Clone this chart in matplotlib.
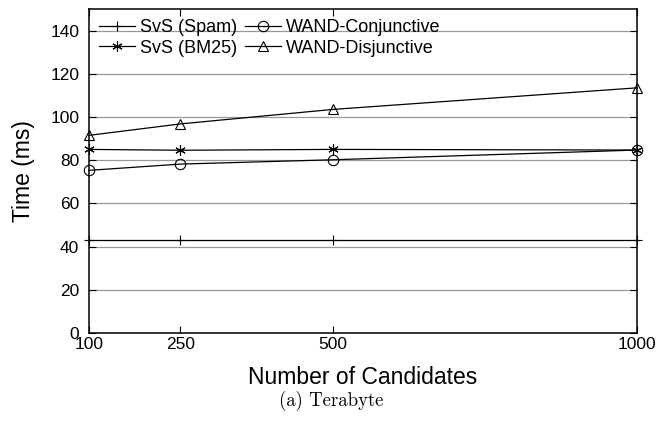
import matplotlib.pyplot as plt
import numpy as np

# Data
candidates = [100, 250, 500, 1000]
svs_spam = [43, 43, 43, 43]
svs_bm25 = [85, 84.6, 85, 84.7]
wand_conj = [75.3, 78.2, 80.2, 84.7]
wand_disj = [91.5, 96.8, 103.5, 113.5]

series = [
    ('SvS (Spam)', svs_spam, '+'),
    ('SvS (BM25)', svs_bm25, (6, 2, 0)),
    ('WAND-Conjunctive', wand_conj, 'o'),
    ('WAND-Disjunctive', wand_disj, '^'),
]

plt.rcParams['font.family'] = ['Liberation Sans', 'DejaVu Sans']

fig = plt.figure(figsize=(6.56, 4.24), dpi=100)
ax = fig.add_axes([89 / 656, 1 - 333 / 424, (637 - 89) / 656, (333 - 9) / 424])

for label, vals, mk in series:
    ax.plot(candidates, vals, color='black', linewidth=0.9, marker=mk,
            markersize=7.5, markerfacecolor='none', markeredgecolor='black',
            markeredgewidth=0.8, label=label, clip_on=False, zorder=3)

ax.set_xlim(100, 1000)
ax.set_ylim(0, 150)
ax.set_xticks(candidates)
ax.set_yticks(np.arange(0, 141, 20))
ax.yaxis.grid(True, color='#999999', linewidth=0.9)
ax.set_axisbelow(True)

ax.tick_params(axis='both', direction='in', labelsize=12.5, length=5, width=0.8,
               top=True, right=True)
ax.tick_params(axis='y', pad=7)
ax.tick_params(axis='x', pad=3)
for sp in ax.spines.values():
    sp.set_linewidth(1.1)

ax.set_xlabel('Number of Candidates', fontsize=16.5, labelpad=10)
ax.set_ylabel('Time (ms)', fontsize=16.5, labelpad=11)

ax.legend(ncol=2, loc='upper left', frameon=False, fontsize=13,
          handlelength=2.0, handletextpad=0.3, columnspacing=0.4,
          labelspacing=0.2, borderaxespad=0.15, bbox_to_anchor=(0.0, 1.0))

fig.text(0.505, 0.03, '(a) Terabyte', fontsize=13.5, family='cmr10',
         ha='center', va='bottom')

fig.savefig('out.png', dpi=100)
